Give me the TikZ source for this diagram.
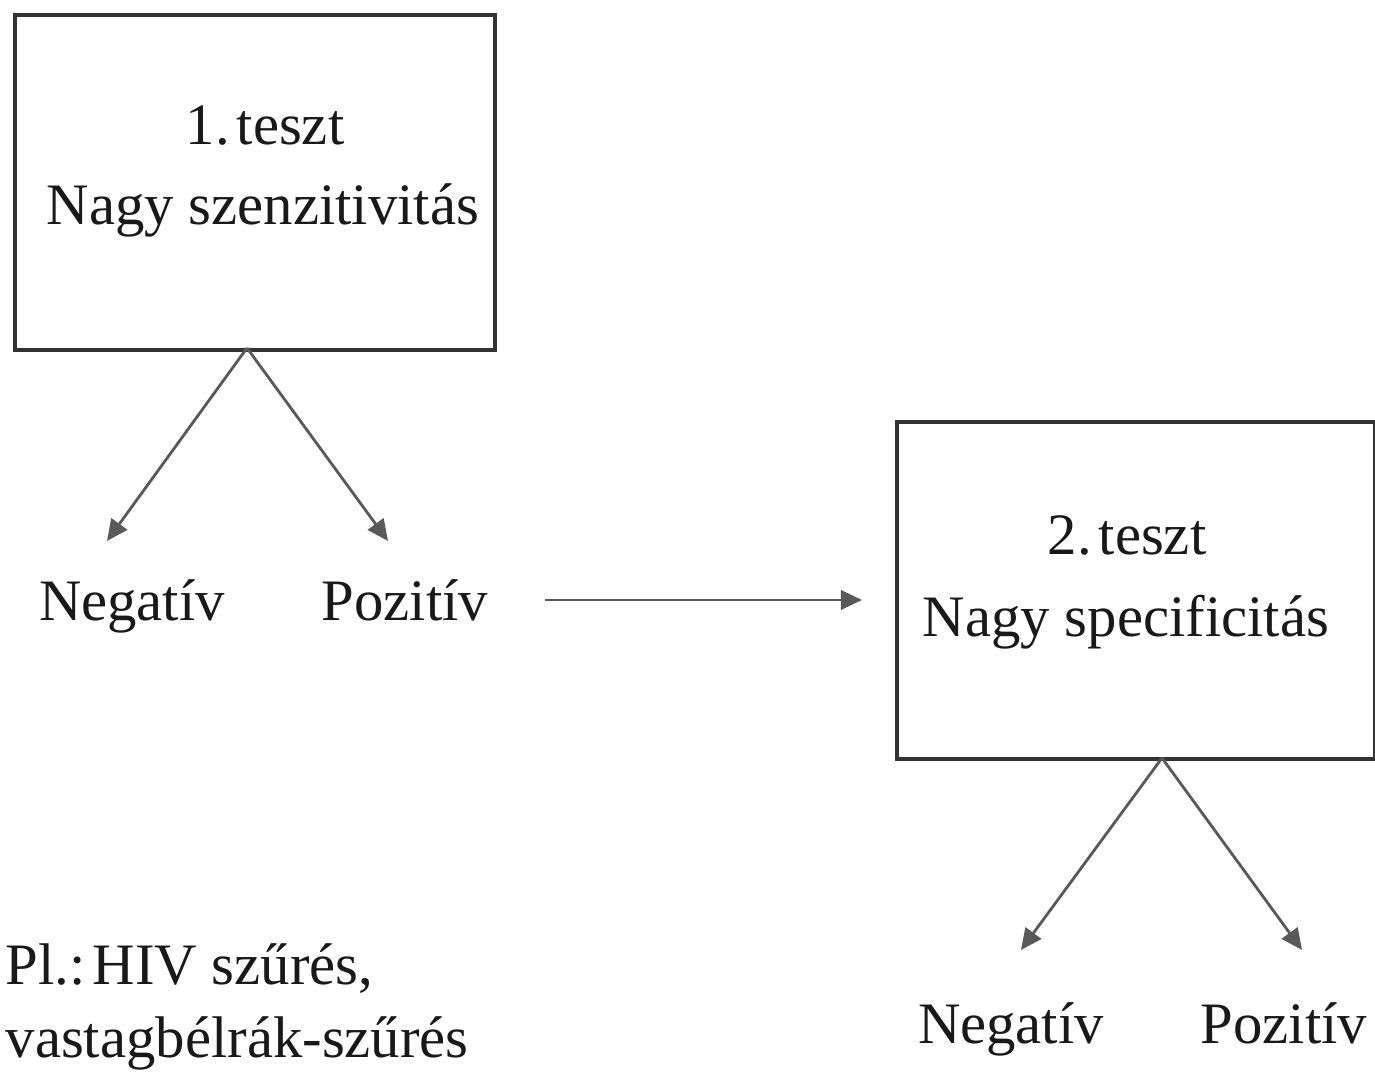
\documentclass[tikz,border=0pt]{standalone}
\usepackage{fontspec}
\setmainfont{Liberation Serif}
\usetikzlibrary{arrows.meta}
\begin{document}
\begin{tikzpicture}[x=0.01cm,y=-0.01cm,
  box/.style={draw=black!80,line width=1.1pt,inner sep=0pt,anchor=north west},
  lbl/.style={font=\fontsize{16.7}{22.8}\selectfont,text=black!90,inner sep=0pt,anchor=base},
  conn/.style={draw=black!65,line width=0.8pt,-{Triangle[length=6pt,width=5.5pt]}}]
\useasboundingbox (0,0) rectangle (1375,1077);
% boxes
\node[box,minimum width=4.8cm,minimum height=3.35cm] (b1) at (13,13) {};
\node[box,minimum width=4.78cm,minimum height=3.37cm] (b2) at (895,420) {};
\coordinate (b1s) at (247,348);
\coordinate (b2s) at (1162,758);
% box texts
\node[lbl] (t1a) at (265,145) {1.\hspace{0.12em}teszt};
\node[lbl] (t1b) at (263,225) {Nagy szenzitivitás};
\node[lbl] (t2a) at (1127,555) {2.\hspace{0.12em}teszt};
\node[lbl] (t2b) at (1126,637) {Nagy specificitás};
% outcome labels
\node[lbl] (n1) at (132,621) {Negatív};
\node[lbl] (p1) at (405,621) {Pozitív};
\node[lbl] (n2) at (1011,1044) {Negatív};
\node[lbl] (p2) at (1284,1044) {Pozitív};
% arrow tips
\coordinate (n1t) at (107,541);
\coordinate (p1t) at (388,541);
\coordinate (n2t) at (1021,950);
\coordinate (p2t) at (1302,950);
\coordinate (hs) at (545,600);
\coordinate (he) at (862,600);
\draw[conn] (b1s) -- (n1t);
\draw[conn] (b1s) -- (p1t);
\draw[conn] (b2s) -- (n2t);
\draw[conn] (b2s) -- (p2t);
\draw[conn] (hs) -- (he);
% example text
\node[lbl,anchor=base west] (ex1) at (5,985) {Pl.:\hspace{0.12em}HIV szűrés,};
\node[lbl,anchor=base west] (ex2) at (5,1058) {vastagbélrák-szűrés};
\end{tikzpicture}
\end{document}
